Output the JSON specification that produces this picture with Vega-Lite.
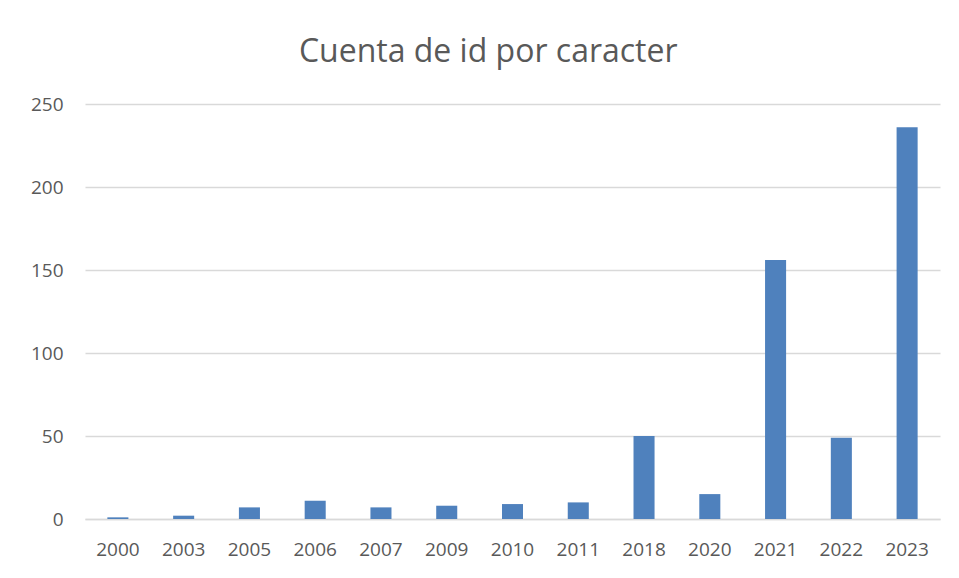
{
  "$schema": "https://vega.github.io/schema/vega-lite/v6.json",
  "width": 855,
  "height": 415,
  "autosize": {"type": "none"},
  "padding": {"left": 85, "top": 104, "right": 19, "bottom": 59},
  "background": "white",
  "title": {
    "text": "Cuenta de id por caracter",
    "anchor": "middle",
    "frame": "bounds",
    "font": "Open Sans",
    "fontSize": 32,
    "fontWeight": "normal",
    "color": "#595959",
    "baseline": "alphabetic",
    "offset": 1,
    "dx": 3
  },
  "data": {
    "values": [
      {"year": "2000", "count": 1},
      {"year": "2003", "count": 2},
      {"year": "2005", "count": 7},
      {"year": "2006", "count": 11},
      {"year": "2007", "count": 7},
      {"year": "2009", "count": 8},
      {"year": "2010", "count": 9},
      {"year": "2011", "count": 10},
      {"year": "2018", "count": 50},
      {"year": "2020", "count": 15},
      {"year": "2021", "count": 156},
      {"year": "2022", "count": 49},
      {"year": "2023", "count": 236}
    ]
  },
  "mark": {"type": "bar", "color": "#4F81BD"},
  "encoding": {
    "x": {
      "field": "year",
      "type": "nominal",
      "sort": null,
      "scale": {"paddingInner": 0.68, "paddingOuter": 0.34},
      "axis": {
        "title": null,
        "labelAngle": 0,
        "ticks": false,
        "domain": true,
        "domainColor": "#d9d9d9",
        "domainWidth": 1.5,
        "labelPadding": 21,
        "labelFont": "Open Sans",
        "labelFontSize": 19,
        "labelColor": "#595959"
      }
    },
    "y": {
      "field": "count",
      "type": "quantitative",
      "scale": {"domain": [0, 250], "nice": false},
      "axis": {
        "title": null,
        "values": [0, 50, 100, 150, 200, 250],
        "ticks": false,
        "domain": false,
        "grid": true,
        "gridColor": "#d9d9d9",
        "gridWidth": 1.5,
        "labelPadding": 22,
        "labelFont": "Open Sans",
        "labelFontSize": 19,
        "labelColor": "#595959"
      }
    }
  },
  "config": {"view": {"stroke": null}}
}
